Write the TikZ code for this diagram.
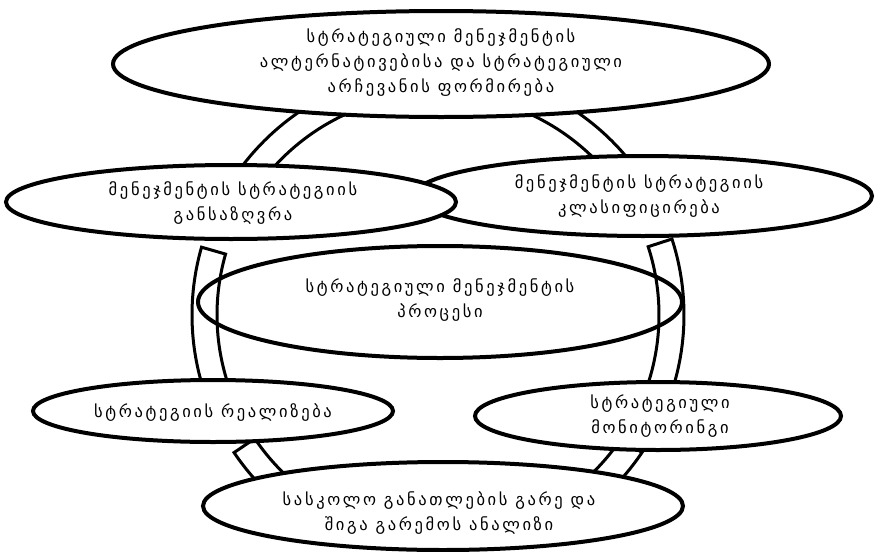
\documentclass[tikz,border=0pt]{standalone}
\usepackage{fontspec}
\setmainfont{DejaVu Sans}[LetterSpace=16]
\usetikzlibrary{shapes.geometric}
\tikzset{
  ell/.style={shape=ellipse, draw=black, line width=4pt, fill=white, inner sep=0pt},
  txt/.style={align=center, font=\fontsize{16.5}{25}\selectfont, inner sep=0pt},
  band/.style={draw=black, line width=3pt, line join=miter}
}
\newcommand\ringseg[2]{%
  \draw[band] ([shift={(#1:246)}]ctr) arc[start angle=#1, end angle=#2, radius=246]
    -- ([shift={(#2:221)}]ctr) arc[start angle=#2, end angle=#1, radius=221] -- cycle;}
\begin{document}
\begin{tikzpicture}[x=1pt,y=-1pt]
\fill[white] (0,0) rectangle (879,552);
\useasboundingbox (0,0) rectangle (879,552);
\coordinate (ctr) at (438,315);
% centre ellipse
\node[ell, minimum width=484, minimum height=112] (e4) at (440,302) {};
% ring segments
\ringseg{210}{250}
\ringseg{290}{330}
\ringseg{196}{160}
\ringseg{342}{382}
\ringseg{146}{115}
\ringseg{34}{65}
% other ellipses
\node[ell, minimum width=656, minimum height=106] (e1) at (441,64) {};
\node[ell, minimum width=458, minimum height=80] (e3) at (643,196) {};
\node[ell, minimum width=450, minimum height=74] (e2) at (231,202) {};
\node[ell, minimum width=360, minimum height=62] (e5) at (213,411) {};
\node[ell, minimum width=366, minimum height=68] (e6) at (658,416) {};
\node[ell, minimum width=480, minimum height=88] (e7) at (443,506) {};
% texts
\node[txt] (t1) at (441,63) {სტრატეგიული მენეჯმენტის\\ალტერნატივებისა და სტრატეგიული\\არჩევანის ფორმირება};
\node[txt] (t2) at (233,203) {მენეჯმენტის სტრატეგიის\\განსაზღვრა};
\node[txt] (t3) at (639,196) {მენეჯმენტის სტრატეგიის\\კლასიფიცირება};
\node[txt] (t4) at (440,300) {სტრატეგიული მენეჯმენტის\\პროცესი};
\node[txt] (t5) at (213,413) {სტრატეგიის რეალიზება};
\node[txt] (t6) at (660,416) {სტრატეგიული\\მონიტორინგი};
\node[txt] (t7) at (439,513) {სასკოლო განათლების გარე და\\შიგა გარემოს ანალიზი};
\end{tikzpicture}
\end{document}
